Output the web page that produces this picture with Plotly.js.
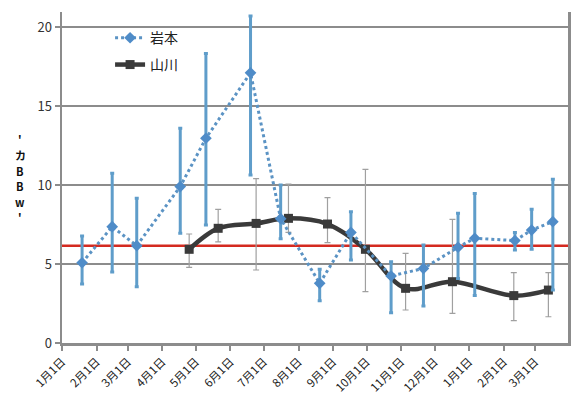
<!DOCTYPE html>
<html>
<head>
<meta charset="utf-8">
<script src="https://cdn.plot.ly/plotly-3.0.1.min.js"></script>
<style>html,body{margin:0;padding:0;background:#fff;}#chart{width:572px;height:396px;}</style>
</head>
<body>
<div id="chart"></div>
<script>
// ---- data ----
const iwaName = '岩本';
const iwaDates = ['2013-01-19','2013-02-15','2013-03-09','2013-04-17','2013-05-10','2013-06-19','2013-07-16','2013-08-20','2013-09-17','2013-10-23','2013-11-21','2013-12-22','2014-01-06','2014-02-11','2014-02-26','2014-03-17'];
const iwaVals  = [5.08, 7.36, 6.16, 9.9, 12.96, 17.1, 7.87, 3.78, 7.0, 4.24, 4.72, 6.06, 6.63, 6.48, 7.15, 7.68];
const iwaHigh  = [6.77, 10.74, 9.16, 13.59, 18.33, 20.7, 10.0, 4.66, 8.3, 5.15, 6.2, 8.21, 9.47, 7.0, 8.46, 10.36];
const iwaLow   = [3.73, 4.49, 3.56, 6.94, 7.47, 10.63, 6.6, 2.68, 5.25, 1.92, 2.34, 4.09, 3.0, 5.89, 5.93, 3.35];

const yamaName = '山川';
const yamaDates = ['2013-04-25','2013-05-21','2013-06-24','2013-07-23','2013-08-27','2013-09-30','2013-11-05','2013-12-17','2014-02-10','2014-03-13'];
const yamaVals  = [5.93, 7.26, 7.57, 7.89, 7.53, 5.93, 3.46, 3.88, 3.0, 3.35];
const yamaHigh  = [6.9, 8.46, 10.4, 10.06, 9.2, 10.99, 5.67, 7.83, 4.45, 4.45];
const yamaLow   = [4.79, 6.4, 4.62, 7.0, 6.35, 3.25, 2.09, 1.88, 1.41, 1.66];

const referenceLevel = 6.15;

const tickDates  = ['2013-01-01','2013-02-01','2013-03-01','2013-04-01','2013-05-01','2013-06-01','2013-07-01','2013-08-01','2013-09-01','2013-10-01','2013-11-01','2013-12-01','2014-01-01','2014-02-01','2014-03-01'];
const tickLabels = ['1月1日','2月1日','3月1日','4月1日','5月1日','6月1日','7月1日','8月1日','9月1日','10月1日','11月1日','12月1日','1月1日','2月1日','3月1日'];
const yTitleChars = ['\'','カ','B','B','w','\''];

// ---- build traces ----
const plus = (hi, v) => hi.map((h, i) => +(h - v[i]).toFixed(3));
const minus = (lo, v) => lo.map((l, i) => +(v[i] - l).toFixed(3));

const yamaTrace = {
  type: 'scatter', mode: 'lines+markers', name: yamaName,
  x: yamaDates, y: yamaVals,
  line: {color: '#3a3a3a', width: 4.5, shape: 'spline', smoothing: 1},
  marker: {symbol: 'square', size: 9, color: '#3a3a3a'},
  error_y: {type: 'data', symmetric: false, array: plus(yamaHigh, yamaVals), arrayminus: minus(yamaLow, yamaVals),
            color: '#a0a0a0', thickness: 1.2, width: 3},
  legend: 'legend2'
};
const iwaTrace = {
  type: 'scatter', mode: 'lines+markers', name: iwaName,
  x: iwaDates, y: iwaVals,
  line: {color: '#5b93c4', width: 3, dash: 'dot'},
  marker: {symbol: 'diamond', size: 9, color: '#4f8cc8'},
  error_y: {type: 'data', symmetric: false, array: plus(iwaHigh, iwaVals), arrayminus: minus(iwaLow, iwaVals),
            color: '#5f9dca', thickness: 3, width: 2},
  legend: 'legend'
};

const font = 'Noto Sans CJK JP, sans-serif';
// vertical axis title: one annotation per character, stacked downward
const titleTop = 0.615, titleStep = 0.047;
const titleAnnotations = yTitleChars.map((ch, i) => ({
  xref: 'paper', yref: 'paper', x: -0.083, y: titleTop - i * titleStep,
  xanchor: 'center', yanchor: 'middle', showarrow: false,
  text: '<b>' + ch + '</b>',
  font: {size: 11, color: '#111', family: font}
}));

const layout = {
  width: 572, height: 396,
  margin: {l: 62, r: 4, t: 12, b: 53},
  paper_bgcolor: '#ffffff', plot_bgcolor: '#ffffff',
  font: {family: font, color: '#333333', size: 12},
  showlegend: true,
  legend: {x: 0.095, y: 0.921, xanchor: 'left', yanchor: 'middle', bgcolor: 'rgba(0,0,0,0)',
           font: {size: 14, color: '#222', family: font}},
  legend2: {x: 0.095, y: 0.84, xanchor: 'left', yanchor: 'middle', bgcolor: 'rgba(0,0,0,0)',
            font: {size: 14, color: '#222', family: font}},
  xaxis: {
    type: 'date', range: ['2013-01-01', '2014-03-30 14:00'],
    tickmode: 'array', tickvals: tickDates, ticktext: tickLabels,
    tickangle: -45, tickfont: {size: 11.5, color: '#222', family: font},
    ticks: 'outside', ticklen: 5, tickwidth: 2, tickcolor: '#8c8c8c',
    showgrid: false, zeroline: false,
    showline: true, linecolor: '#8c8c8c', linewidth: 2.5
  },
  yaxis: {
    range: [0, 20.95], tickvals: [0, 5, 10, 15, 20],
    tickfont: {size: 13, color: '#333', family: font},
    ticks: 'outside', ticklen: 5, tickwidth: 2, tickcolor: '#8c8c8c',
    showgrid: true, gridcolor: '#8c8c8c', gridwidth: 2,
    zeroline: false, showline: true, mirror: true, linecolor: '#8c8c8c', linewidth: 2.5
  },
  shapes: [{type: 'line', xref: 'paper', x0: 0, x1: 1, yref: 'y', y0: referenceLevel, y1: referenceLevel,
            line: {color: '#d42a20', width: 2.5}, layer: 'below'}],
  annotations: titleAnnotations
};

Plotly.newPlot('chart', [yamaTrace, iwaTrace], layout, {displayModeBar: false, staticPlot: true});
</script>
</body>
</html>
